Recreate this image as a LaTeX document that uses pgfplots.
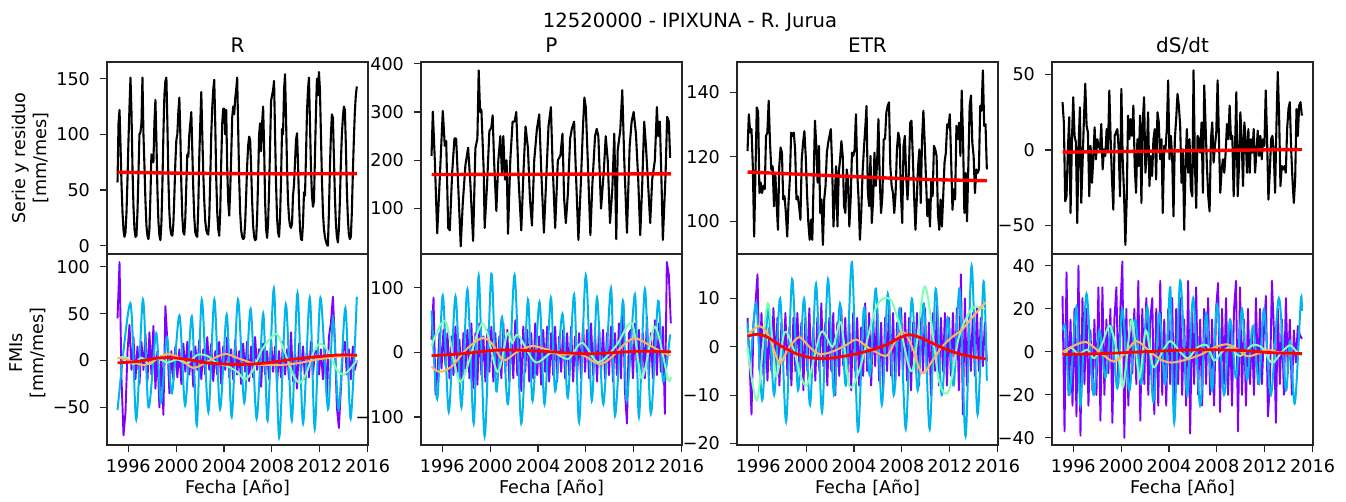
\documentclass[border=0pt]{standalone}
\usepackage{fontspec}
\setmainfont{DejaVu Sans}
\usepackage{pgfplots}
\pgfplotsset{compat=1.18}
\definecolor{cpur}{rgb}{0.5,0,1}
\definecolor{ccya}{rgb}{0,0.707,0.924}
\definecolor{cgrn}{rgb}{0.5,1,0.707}
\definecolor{corg}{rgb}{1,0.707,0.383}
\pgfplotsset{
  table/row sep=\\, table/header=false,
  every axis title shift=0pt,
  base/.style={scale only axis, width=130.5pt, anchor=south west,
    xmin=-10.56, xmax=251.2,
    axis line style={line width=0.6pt, black!85},
    tick style={line width=0.6pt, black!85},
    tick align=outside, major tick length=3.5pt,
    xtick pos=left, ytick pos=left,
    tick label style={font=\fontsize{8.8}{10}\selectfont},
    yticklabel style={xshift=-1.5pt},
    /pgf/number format/assume math mode=true,
    title style={at={(0.5,1)}, anchor=base, yshift=4.8pt, font=\fontsize{10}{12}\selectfont},
  },
  toprow/.style={base, height=96pt, xtick=\empty},
  botrow/.style={base, height=95.5pt, xtick={10.8,58.8,106.8,154.8,202.8,250.8},
    xticklabels={1996,2000,2004,2008,2012,2016}, xlabel={Fecha [Año]},
    xlabel style={at={(axis description cs:0.5,0)}, anchor=base, yshift=-24.5pt, font=\fontsize{8.8}{10}\selectfont}},
  blk/.style={black, line width=1.05pt, line join=round},
  trend/.style={red, line width=1.7pt, smooth},
  imf1/.style={cpur, line width=0.95pt, line join=round},
  imf2/.style={ccya, line width=1pt, smooth},
  imf3/.style={cgrn, line width=1pt, smooth},
  imf4/.style={corg, line width=1pt, smooth},
  res/.style={red, line width=1.4pt, smooth},
}
\begin{document}
\begin{tikzpicture}
\useasboundingbox (0,0) rectangle (673pt,251pt);
\node[anchor=base, font=\fontsize{9.8}{12}\selectfont] at (345pt,237pt) {12520000 - IPIXUNA - R. Jurua};
\node[rotate=90, align=center, font=\fontsize{8.8}{10.5}\selectfont] at (15.25pt,172pt) {Serie y residuo\\{[mm/mes]}};
\node[rotate=90, align=center, font=\fontsize{8.8}{10.5}\selectfont] at (14pt,74.5pt) {FMIs\\{[mm/mes]}};

% ================= R top
\begin{axis}[toprow, at={(53.5pt,124pt)}, title={R}, ymin=-7.4, ymax=165, ytick={0,50,100,150}, yticklabels={0,50,100,150}]
\addplot[blk] table[x expr=\coordindex, y index=0]{
57\\110\\122\\90\\55\\30\\14\\8\\12\\30\\
60\\95\\125\\151\\120\\70\\35\\15\\8\\9\\
30\\65\\100\\102\\110\\151\\100\\72\\40\\18\\
9\\6\\15\\45\\82\\80\\75\\110\\131\\95\\
50\\22\\9\\5\\20\\55\\100\\135\\148\\151\\
110\\60\\30\\15\\10\\9\\20\\45\\75\\95\\
100\\120\\133\\100\\55\\25\\12\\10\\25\\55\\
82\\80\\100\\110\\120\\85\\50\\25\\12\\9\\
8\\35\\80\\110\\138\\100\\65\\40\\22\\14\\
11\\10\\25\\60\\100\\124\\140\\149\\110\\60\\
30\\15\\9\\30\\75\\110\\123\\123\\100\\122\\
70\\40\\27\\50\\80\\115\\125\\118\\132\\140\\
151\\105\\60\\30\\14\\8\\6\\7\\20\\45\\
72\\90\\98\\95\\70\\40\\18\\8\\5\\6\\
25\\60\\100\\110\\85\\110\\125\\90\\40\\15\\
7\\20\\50\\90\\130\\135\\140\\148\\100\\55\\
25\\12\\8\\25\\60\\105\\100\\140\\154\\115\\
70\\40\\25\\18\\16\\20\\45\\55\\75\\95\\
101\\75\\40\\15\\6\\5\\20\\48\\45\\80\\
120\\140\\151\\110\\70\\45\\35\\40\\80\\120\\
150\\135\\156\\140\\100\\60\\30\\15\\8\\4\\
1\\0\\30\\70\\100\\118\\115\\80\\45\\20\\
8\\3\\15\\40\\75\\100\\115\\125\\122\\90\\
50\\25\\10\\6\\8\\30\\65\\95\\120\\135\\
143\\};
\addplot[trend] table{0 66\\60 65.2\\120 64.7\\180 64.6\\240 64.8\\};
\end{axis}

% ================= P top
\begin{axis}[toprow, at={(210.5pt,124pt)}, title={P}, ymin=6, ymax=403.5, ytick={100,200,300,400}, yticklabels={100,200,300,400}]
\addplot[blk] table{
0 209\\1.3 301\\3.3 200\\5.7 49\\8 150\\11.3 302\\13.3 230\\14.7 240\\16.7 60\\18.3 55\\
20.7 175\\23 245\\24.7 245\\26.7 150\\29.3 22\\31.3 110\\34 190\\36.7 226\\39 150\\41.7 33\\
44 225\\46 245\\47.3 386\\48.7 300\\50 305\\52.3 180\\53.3 60\\55.7 150\\58 260\\60 268\\
61.3 293\\62.7 200\\65 95\\67 200\\69 250\\70.7 170\\72 250\\73.7 160\\75.3 200\\76.7 48\\
79 200\\81.3 280\\83.3 280\\85 300\\87.3 160\\90 55\\92.3 180\\94.3 270\\96.7 225\\98.7 120\\
100.7 65\\103 200\\105.7 265\\108 295\\110 180\\112.7 50\\115 160\\117.3 270\\119.7 310\\121.3 200\\
124 60\\126.7 200\\129.3 210\\131.3 255\\133 120\\134.7 70\\136.7 130\\139 245\\140.7 265\\143 280\\
144.7 180\\147.3 35\\149.7 150\\151.7 260\\153.3 330\\154.7 310\\156.7 200\\159.3 45\\161.3 150\\164 250\\
165.7 265\\167.3 250\\170 100\\172.7 175\\174.7 250\\176.7 200\\179 70\\181.3 140\\183.3 255\\185.3 37\\
186.7 220\\189.3 263\\191.3 345\\193.3 200\\196 50\\198.7 230\\200.7 280\\202.7 300\\205 255\\207.3 160\\
209.3 45\\211.3 150\\213.3 280\\215 230\\216.7 170\\219.3 70\\221.3 160\\224 200\\226 310\\227.3 250\\
229 280\\230.7 150\\232 35\\234.7 170\\236.3 290\\238 280\\239.3 205\\};
\addplot[trend] table{0 170.5\\120 171.2\\240 172\\};
\end{axis}

% ================= ETR top
\begin{axis}[toprow, at={(368.5pt,124pt)}, title={ETR}, ymin=89.9, ymax=149.4, ytick={100,120,140}, yticklabels={100,120,140}]
\addplot[blk] table[x expr=\coordindex*1.326, y index=0]{
121.8\\133.2\\127.5\\128.6\\117\\95.3\\115\\135.3\\134\\108.8\\
112\\108.8\\111\\110\\126.5\\127.5\\137.4\\124.4\\116\\117.1\\
104.7\\115\\105.7\\97.4\\117.1\\122.9\\121.3\\106.8\\107.8\\102.6\\
95.3\\105.7\\113\\127.5\\126.5\\127.5\\122.3\\
106.8\\107.8\\104.7\\100.5\\119.2\\124.4\\128\\120.3\\108.8\\99.5\\
94.3\\100.5\\94.3\\113\\131.2\\123.4\\112\\123.4\\102.6\\106.8\\
92.7\\106.8\\111\\121.3\\124.4\\126.5\\128.6\\117.1\\98.4\\107.8\\
117.1\\98.4\\115\\119.2\\124.9\\120.3\\104.7\\102.6\\116.1\\113\\
98.4\\106.8\\121.3\\120.3\\122.3\\133.2\\115\\106.8\\94.3\\102.6\\
115\\122.3\\128.6\\135.8\\108.8\\104.7\\120.3\\99.5\\106.8\\121.3\\
111\\118.2\\131.7\\113\\102.6\\107.8\\125.5\\125.5\\133.8\\135.8\\
136.9\\117.1\\111\\108.8\\102.6\\108.8\\122.3\\127.5\\125.5\\108.8\\
99.5\\123.4\\126.5\\114\\106.8\\115\\130.6\\131.2\\120.3\\107.8\\
97.4\\106.8\\117.1\\122.3\\105.7\\125.5\\134.3\\124.4\\113\\101.6\\
106.8\\98.4\\113\\107.8\\123.4\\122.3\\120.3\\102.6\\97.4\\106.8\\
98.4\\107.8\\118.2\\121.3\\130.1\\129.1\\133.2\\119.2\\103.6\\110\\
106.8\\129.6\\125.5\\130.6\\120.3\\140.5\\125.5\\102.6\\115\\100\\
117.1\\135.8\\139\\124.4\\120.3\\108.8\\116.1\\115\\116.1\\135.8\\
134.3\\146.8\\129.6\\130.1\\116.1\\};
\addplot[trend] table{0 115.3\\60 114.5\\120 113.7\\180 113\\240 112.6\\};
\end{axis}

% ================= dS/dt top
\begin{axis}[toprow, at={(526pt,124pt)}, title={dS/dt}, ymin=-68.9, ymax=58.2, ytick={-50,0,50}, yticklabels={−50,0,50}]
\addplot[blk] table[x expr=\coordindex*1.3408, y index=0]{
31.6\\18\\-34\\-30.7\\0.4\\21.6\\-41.8\\4.9\\34.9\\9.3\\
4.9\\-48.4\\2.7\\28.2\\-35.1\\-8.4\\20.4\\43.8\\16\\11.6\\
-30.7\\2.7\\-21.8\\-6.2\\14.9\\-6.2\\7.1\\2.7\\0.4\\17.1\\
-12.9\\0.4\\-4\\13.8\\0.4\\39.3\\7.1\\-19.6\\-39.6\\9.3\\
11.6\\13.8\\0.4\\-30.7\\40.4\\-6.2\\-28.4\\-62.9\\-32.9\\22.7\\
7.1\\20.4\\9.3\\29.3\\-10.7\\-28.4\\7.1\\-10.7\\22.7\\-35.1\\
18.2\\34.9\\-15.1\\-1.8\\24.9\\-24\\-4\\-17.3\\7.1\\13.8\\
-19.6\\24.9\\18.2\\-6.2\\7.1\\-41.8\\2.7\\0.4\\13.8\\46\\
-6.2\\9.3\\-4\\-44\\7.1\\20.4\\37.1\\29.3\\16\\-21.8\\
0.4\\-52.9\\-10.7\\13.8\\-15.1\\7.1\\-26.2\\-30.7\\52.7\\-8.4\\
-38.4\\9.3\\7.1\\-1.8\\18.2\\-28.4\\42.7\\16\\-10.7\\-30.7\\
-40.7\\7.1\\18.2\\-8.4\\2.7\\11.6\\46\\7.1\\-28.4\\-12.9\\
-6.2\\-15.1\\-1.8\\17.1\\7.1\\29.3\\7.1\\9.3\\-30.7\\0.4\\
38.2\\-30.7\\-10.7\\24.9\\7.1\\-24\\18.2\\7.1\\-15.1\\13.8\\
-15.1\\7.1\\-1.8\\13.8\\-15.1\\-1.8\\12.7\\-4\\9.3\\-6.2\\
7.1\\2.7\\39.3\\7.1\\-32.9\\-15.1\\7.1\\9.3\\-1.8\\-28.4\\
16\\51.6\\22.7\\-24\\-10.7\\-12.9\\-10.7\\-15.1\\13.8\\27.1\\
31.6\\0.4\\-19.6\\-35.1\\-19.6\\27.1\\9.3\\29.3\\31.6\\22.7\\};
\addplot[trend] table{0 -1.5\\120 -0.6\\240 0.3\\};
\end{axis}

% ================= R bottom
\begin{axis}[botrow, at={(53.5pt,28.5pt)}, ymin=-90.1, ymax=113.6, ytick={-50,0,50,100}, yticklabels={−50,0,50,100}]
\addplot[imf1] table[x expr=\coordindex*2, y index=0]{
45\\105\\-20\\-80\\-55\\10\\38\\-10\\25\\-20\\
15\\-25\\20\\-10\\28\\-22\\30\\-15\\37\\-30\\
10\\-50\\5\\-58\\58\\20\\-35\\10\\-20\\15\\
-18\\12\\-25\\18\\-12\\20\\-15\\10\\-28\\15\\
-10\\22\\-20\\12\\-15\\25\\-10\\18\\-22\\10\\
-15\\20\\-25\\15\\-10\\25\\-18\\12\\-20\\22\\
-15\\10\\-25\\18\\-12\\20\\-22\\15\\-18\\25\\
-10\\12\\-28\\18\\-15\\10\\-20\\22\\-12\\15\\
-25\\10\\-18\\20\\-15\\12\\-20\\30\\-22\\10\\
-30\\18\\-12\\15\\-20\\12\\-18\\20\\-15\\10\\
10\\-15\\12\\-20\\15\\-40\\25\\40\\68\\20\\
-50\\-72\\-30\\10\\20\\-15\\12\\-20\\15\\-10\\
0\\};
\addplot[imf2] table{0 -53\\12.8 61\\18.8 -63\\25.5 65\\31.1 -50\\38.8 29\\43.5 -45\\49.5 25\\54.5 -35\\62.1 48\\67.8 -48\\74.5 47\\79.5 -69\\84.5 65\\91.1 -55\\97.1 65\\102.8 -52\\109.5 49\\114.5 -60\\120.8 65\\127.1 -45\\133.5 55\\139.5 -62\\146.1 50\\150.5 -64\\156.8 77\\162.1 -82\\168.8 60\\174.8 -64\\180.5 72\\186.1 -67\\192.8 67\\197.8 -73\\203.5 67\\211.1 -52\\216.1 45\\221.8 -52\\228.5 56\\233.8 -62\\240 68\\};
\addplot[imf3] table{0 2\\8 4\\16 -4\\24 3\\32 -4\\40 2\\50 -2\\60 1\\70 -3\\80 6\\90 5\\100 -3\\110 -6\\120 -12\\128 -20\\136 -10\\144 10\\152 22\\160 28\\168 8\\176 -15\\183 -24\\190 -12\\197 10\\204 18\\212 8\\220 -10\\227 -15\\234 -8\\240 0\\};
\addplot[imf4] table{0 3\\10 1\\26 -5\\40 2\\50 7\\62 3\\76 -8\\92 0\\108 7\\122 2\\140 -4\\160 -5\\180 -3\\200 1\\220 4\\240 5\\};
\addplot[res] table{0 -2.5\\20 -1\\40 2.5\\55 3\\70 1\\90 -2.5\\110 -4\\130 -4\\150 -2.5\\170 0.5\\190 3\\210 5\\225 6\\240 5.5\\};
\end{axis}

% ================= P bottom
\begin{axis}[botrow, at={(210.5pt,28.5pt)}, ymin=-143.2, ymax=152.5, ytick={-100,0,100}, yticklabels={−100,0,100}]
\addplot[imf1] table[x expr=\coordindex*2, y index=0]{
20\\85\\-65\\-30\\30\\-25\\35\\-20\\30\\-40\\
25\\-35\\40\\-30\\20\\-45\\30\\-25\\35\\-40\\
45\\-55\\30\\-50\\45\\-35\\25\\-45\\35\\-30\\
40\\-45\\30\\-35\\25\\-40\\45\\-30\\35\\-45\\
30\\-40\\50\\-35\\25\\-60\\40\\-30\\35\\-45\\
30\\-40\\45\\-35\\25\\-50\\35\\-30\\40\\-45\\
30\\-35\\40\\-45\\25\\-30\\35\\-40\\30\\-35\\
40\\-45\\25\\-35\\30\\-40\\45\\-30\\35\\-40\\
45\\-35\\30\\-45\\40\\-30\\35\\-40\\30\\-35\\
40\\-45\\30\\-35\\45\\-40\\80\\-60\\-110\\30\\
35\\-40\\45\\-30\\35\\-45\\30\\-40\\55\\-35\\
30\\-40\\50\\-35\\45\\-30\\40\\-95\\140\\120\\
45\\};
\addplot[imf2] table{0 65\\5.7 -72\\11.3 88\\17.3 -92\\24 87\\30 -85\\36 98\\42.3 -110\\47.3 119\\53.3 -130\\60 122\\65 -60\\70.7 55\\76.7 -80\\83.3 120\\90 -110\\96.7 82\\101.3 -75\\108.3 78\\113.3 -80\\119.7 85\\124 -60\\131.3 60\\136.7 -70\\143 90\\148 -108\\154.7 120\\160.7 -75\\166 85\\172.3 -80\\180 100\\184 -98\\192 80\\195.7 -75\\204 90\\208 -100\\214 98\\220 -95\\227.3 80\\232.3 -45\\239.3 28\\};
\addplot[imf3] table{0 10\\14 48\\29 -45\\51 45\\66 -30\\76 30\\81 15\\87 27\\104 -15\\121 0\\137 -10\\151 15\\167 -15\\185 10\\201 45\\211 -40\\224 40\\237 -40\\240 -38\\};
\addplot[imf4] table{0 -22\\8 -30\\20 -22\\35 5\\50 22\\60 15\\72 -12\\85 0\\100 10\\115 5\\130 -3\\150 -3\\168 -18\\180 -8\\195 15\\205 22\\220 10\\232 0\\240 -5\\};
\addplot[res] table{0 -5\\30 -2\\60 3\\80 4\\110 2\\140 -1\\160 -2\\185 0\\210 2\\240 1\\};
\end{axis}

% ================= ETR bottom
\begin{axis}[botrow, at={(368.5pt,28.5pt)}, ymin=-20.3, ymax=19.2, ytick={-20,-10,0,10}, yticklabels={−20,−10,0,10}]
\addplot[imf1] table[x expr=\coordindex*2, y index=0]{
6\\-3\\-14\\5\\9\\15\\-5\\7\\-6\\5\\
-7\\4\\-5\\8\\-4\\6\\-8\\5\\-3\\7\\
-6\\4\\-8\\6\\-5\\7\\-4\\5\\-9\\6\\
-5\\8\\-6\\4\\-7\\6\\-5\\9\\-4\\5\\
-8\\6\\-5\\7\\-10\\5\\-6\\8\\-4\\6\\
-7\\5\\-9\\7\\-5\\6\\-8\\4\\-6\\9\\
-5\\7\\-8\\6\\-4\\8\\-7\\5\\-9\\6\\
-5\\10\\-6\\7\\-8\\5\\-6\\8\\-5\\7\\
-7\\6\\-9\\5\\-4\\7\\-8\\6\\-5\\8\\
-6\\5\\-10\\7\\-5\\9\\-8\\6\\-5\\7\\
-8\\6\\-6\\7\\-5\\8\\-9\\15\\-14\\10\\
-8\\6\\-5\\7\\-6\\8\\-5\\6\\-4\\5\\
-3\\};
\addplot[imf2] table{0 5\\2.7 -3\\8.7 9\\14.7 -11\\20.7 8\\26.7 -10\\32.7 10\\38.7 -15.5\\44.7 14\\50.7 -9\\56.7 10\\62.7 -12\\68.7 13\\74.7 -13.5\\80.7 14\\86.7 -10\\92.7 9\\98.7 -8\\104.7 17.5\\110.7 -17.5\\116.7 8\\122.7 -6\\128.7 12\\134.7 -12\\140.7 11\\146.7 -10\\152.7 8\\158.7 -17\\164.7 10\\170.7 -9\\176.7 9\\182.7 -17\\188.7 12\\194.7 -10\\200.7 6\\206.7 -8\\212.7 12\\218.7 -18.5\\224.7 16.8\\230.7 -14\\236.7 13.5\\240 -7\\};
\addplot[imf3] table{0 0\\9.7 -11\\20.3 9\\28.7 -6\\37 3\\45.3 0\\58.7 -8\\73.7 3\\85.3 0\\93.7 5\\102 -8\\112 -5\\128.7 8\\142 10\\152 5\\165.3 -5\\178 12.5\\192 -7\\202 -9\\212 2\\225.3 8\\238 7.8\\};
\addplot[imf4] table{0 2.5\\12 4.3\\22 2\\32 -3.3\\42 0\\52 2\\62 0\\72 -1.5\\85 -1\\100 0.5\\109 1.5\\120 0\\128 -1\\140 -1.8\\150 2\\157 3\\165 0\\175 -5.5\\185 -3\\195 0\\205 2\\215 3.5\\225 6\\239 9.3\\};
\addplot[res] table{0 2.2\\10 2.6\\20 2\\35 0\\50 -1.5\\65 -2.3\\80 -2.4\\95 -2\\110 -1.4\\125 -0.6\\140 0.5\\152 1.8\\162 2.5\\172 2\\185 0.8\\200 -0.6\\215 -1.6\\230 -2.2\\239 -2.5\\};
\end{axis}

% ================= dS/dt bottom
\begin{axis}[botrow, at={(526pt,28.5pt)}, ymin=-43.3, ymax=45.5, ytick={-40,-20,0,20,40}, yticklabels={−40,−20,0,20,40}]
\addplot[imf1] table[x expr=\coordindex*2, y index=0]{
26\\-37\\37\\-20\\15\\-25\\20\\-30\\40\\-39\\
25\\-15\\20\\-25\\10\\-18\\15\\-20\\30\\-32\\
30\\-20\\15\\-10\\20\\-33\\15\\30\\-15\\20\\
42\\-40\\20\\-25\\15\\-10\\20\\-15\\33\\-32\\
20\\-15\\25\\-20\\15\\25\\-29\\20\\-25\\33\\
-20\\15\\-25\\20\\-15\\25\\-30\\20\\-15\\25\\
-20\\15\\-25\\33\\-38\\20\\-15\\30\\-20\\15\\
-25\\20\\-15\\25\\-20\\15\\-25\\20\\32\\-28\\
20\\-15\\25\\-20\\15\\-25\\20\\33\\-37\\30\\
-20\\15\\-25\\20\\-15\\10\\-20\\25\\-15\\20\\
-15\\10\\26\\-30\\-15\\33\\10\\-33\\20\\-15\\
15\\-20\\25\\-10\\15\\-20\\10\\-5\\12\\8\\
6\\};
\addplot[imf2] table{0 10\\3 11\\7 -20\\14 21\\18 -25\\24 27\\31 -20\\37 10\\43 -12\\49 12\\55 -17\\60 20\\67 -18\\73 15\\79 -15\\85 21\\91 -23\\97 18\\103 -15\\108 30\\112 -33\\118 33\\125 -20\\131 25\\138 -25\\144 18\\150 -18\\155 22\\162 -20\\168 15\\174 -12\\180 20\\185 -13\\191 12\\197 -15\\202 20\\209 -20\\217 25\\224 -18\\228 5\\233 -24\\239 24\\240 19\\};
\addplot[imf3] table{0 -2\\8 2\\16 -1\\25 1\\32 -3\\40 4\\47.7 12\\57 -5\\61 -16\\69.5 15\\77 -12\\83.5 10\\91 -7\\100 0\\108 5\\118 0\\126 -3\\135 2\\145 3\\152 -4\\160 0\\168 2\\178 -2\\190 3\\200 2\\210 -5\\220 0\\228 3\\235 0\\240 -2\\};
\addplot[imf4] table{0 0\\12 3\\24 4.5\\37 0\\51 -4.5\\62 -1\\74 5\\88 0\\100 -4\\110 -5\\125 -3.5\\140 -1\\152 2\\165 3.5\\176 1\\185 -2\\195 -1\\205 1\\215 0\\228 -1\\240 -1\\};
\addplot[res] table{0 -1.2\\40 -0.8\\80 0\\120 0.8\\150 1\\180 0.6\\210 -0.4\\240 -0.8\\};
\end{axis}
\end{tikzpicture}
\end{document}
